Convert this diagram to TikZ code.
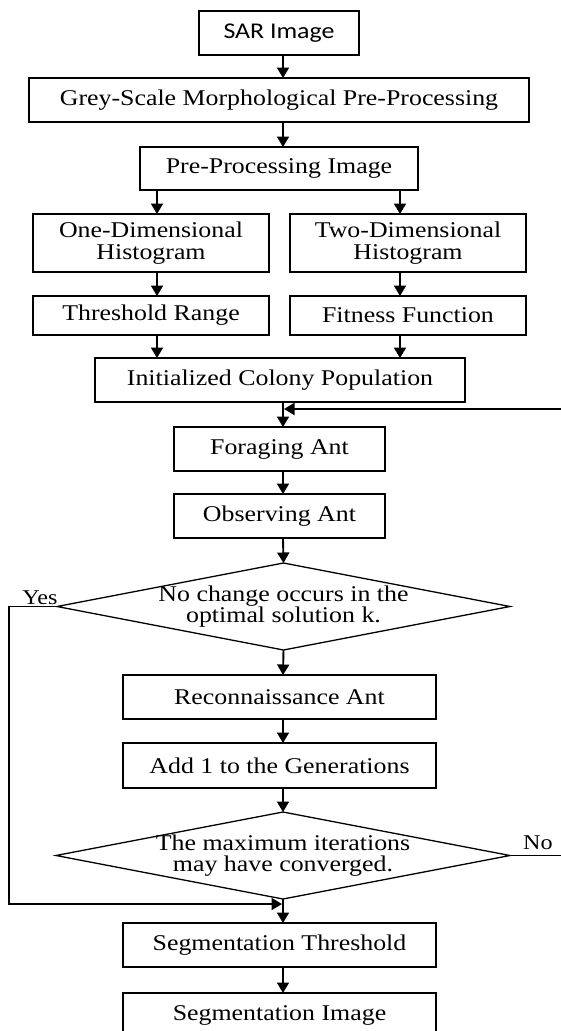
\documentclass[tikz,border=0pt]{standalone}
\usepackage{fontspec}
\setmainfont{Liberation Serif}[FakeStretch=1.15]
\newfontfamily\sarfont{Carlito}[FakeStretch=1.15]
\usetikzlibrary{arrows.meta}
\begin{document}
\begin{tikzpicture}[x=1pt,y=-1pt,
  box/.style={draw, line width=2.2pt, inner sep=0pt, outer sep=0pt, align=center,
    font=\fontsize{22.5}{22}\selectfont},
  dec/.style={inner sep=0pt, outer sep=0pt, align=center,
    font=\fontsize{22.5}{21}\selectfont},
  decline/.style={line width=1.3pt},
  arr/.style={line width=1.9pt, -{Triangle[width=12pt,length=10.5pt]}},
  ln/.style={line width=1.9pt},
  lab/.style={font=\fontsize{21}{21}\selectfont, inner sep=0pt, anchor=base}]
\useasboundingbox (0,0) rectangle (561,1031);
\fill[white] (0,0) rectangle (561,1031);

% column coordinates
\coordinate (ax) at (283,0);
\coordinate (bl) at (157,0);
\coordinate (br) at (400,0);

% boxes
\node[box, minimum width=160pt, minimum height=44pt] (sar) at (279,33) {\sarfont SAR Image};
\node[box, minimum width=500pt, minimum height=44pt] (grey) at (279,100) {Grey-Scale Morphological Pre-Processing};
\node[box, minimum width=278pt, minimum height=43pt] (pre) at (279,168.5) {Pre-Processing Image};
\node[box, minimum width=236pt, minimum height=58pt] (one) at (151,243) {One-Dimensional\\Histogram};
\node[box, minimum width=236pt, minimum height=58pt] (two) at (408,243) {Two-Dimensional\\Histogram};
\node[box, minimum width=236pt, minimum height=39pt] (thr) at (151,315.5) {Threshold Range};
\node[box, minimum width=236pt, minimum height=39pt] (fit) at (408,315.5) {Fitness Function};
\node[box, minimum width=370pt, minimum height=44pt] (init) at (280,380) {Initialized Colony Population};
\node[box, minimum width=211pt, minimum height=44pt] (forg) at (279.5,449) {Foraging Ant};
\node[box, minimum width=211pt, minimum height=44pt] (obs) at (279.5,516) {Observing Ant};
\node[dec, minimum width=453pt, minimum height=87pt] (d1) at (283.5,606.5) {No change occurs in the\\optimal solution k.};
\draw[decline] (d1.north) -- (d1.east) -- (d1.south) -- (d1.west) -- cycle;
\node[box, minimum width=313pt, minimum height=44pt] (recon) at (279.5,697) {Reconnaissance Ant};
\node[box, minimum width=313pt, minimum height=45pt] (add) at (279.5,765.5) {Add 1 to the Generations};
\node[dec, minimum width=454pt, minimum height=87pt] (d2) at (283,855.5) {The maximum iterations\\may have converged.};
\draw[decline] (d2.north) -- (d2.east) -- (d2.south) -- (d2.west) -- cycle;
\node[box, minimum width=313pt, minimum height=44pt] (segt) at (279.5,945) {Segmentation Threshold};
\node[box, minimum width=313pt, minimum height=44pt] (segi) at (279.5,1015) {Segmentation Image};

% labels
\node[lab] (yes) at (40,604) {Yes};
\node[lab] (no) at (538,849) {No};

% arrows main column
\draw[arr] (sar.south -| ax) -- (grey.north -| ax);
\draw[arr] (grey.south -| ax) -- (pre.north -| ax);
\draw[arr] (pre.south -| bl) -- (one.north -| bl);
\draw[arr] (pre.south -| br) -- (two.north -| br);
\draw[arr] (one.south -| bl) -- (thr.north -| bl);
\draw[arr] (two.south -| br) -- (fit.north -| br);
\draw[arr] (thr.south -| bl) -- (init.north -| bl);
\draw[arr] (fit.south -| br) -- (init.north -| br);
\draw[arr] (init.south -| ax) -- (forg.north -| ax);
\draw[arr] (forg.south -| ax) -- (obs.north -| ax);
\draw[arr] (obs.south -| ax) -- (d1.north);
\draw[arr] (d1.south) -- (recon.north -| ax);
\draw[arr] (recon.south -| ax) -- (add.north -| ax);
\draw[arr] (add.south -| ax) -- (d2.north);
\draw[arr] (d2.south) -- (segt.north -| ax);
\draw[arr] (segt.south -| ax) -- (segi.north -| ax);

% loop back from the right
\coordinate (lr) at (561,409);
\coordinate (ltip) at (284,409);
\draw[arr] (lr) -- (ltip);

% Yes branch
\coordinate (yc) at (9,0);
\coordinate (ytip) at (282,904);
\draw[arr] (d1.west) -- (d1.west -| yc) |- (ytip);

% No branch
\coordinate (nr) at (561,0);
\draw[ln] (d2.east) -- (d2.east -| nr);
\end{tikzpicture}
\end{document}
